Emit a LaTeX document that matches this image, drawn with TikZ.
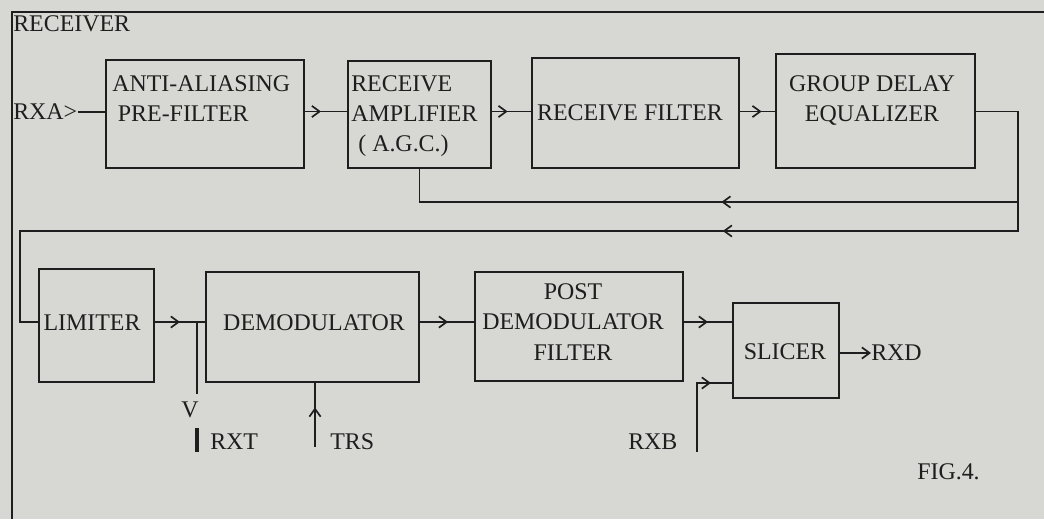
\documentclass[tikz,border=0pt]{standalone}
\usepackage{fontspec}
\setmainfont{Liberation Serif}
\usetikzlibrary{arrows.meta,decorations.markings}
\usepackage{xcolor}
\definecolor{paper}{HTML}{D7D7D4}
\definecolor{ink}{HTML}{1E1E1E}

\begin{document}
\begin{tikzpicture}[
  x=0.025cm, y=-0.025cm,
  blk/.style 2 args={draw=ink, line width=1.8pt, inner sep=0pt,
               minimum width=#1*0.025cm, minimum height=#2*0.025cm},
  txt/.style={font=\fontsize{17}{21.5}\selectfont, text=ink, inner sep=0pt},
  wire/.style={draw=ink, line width=1.4pt},
  flow/.style={postaction=decorate, decoration={markings,
               mark=at position #1 with {\arrow{Straight Barb[length=5.5pt,width=8pt,line width=1.2pt]}}}},
  flow/.default=0.5
]
  % Paper
  \useasboundingbox (0,0) rectangle (1044,519);
  \fill[paper] (0,0) rectangle (1044,519);

  % Frame
  \coordinate (frtop) at (1044,12);
  \coordinate (frcorner) at (12,12);
  \coordinate (frbot) at (12,519);
  \draw[wire] (frtop) -- (frcorner) -- (frbot);
  \node[txt, anchor=west] (title) at (13,23.5) {RECEIVER};

  % Top row
  \node[blk={198}{108}] (aaf) at (205,114) {};
  \node[txt, align=left, anchor=north west] (aaft) at (112,75) {ANTI-ALIASING\\\hspace*{4pt}PRE-FILTER};
  \node[blk={143}{107}] (amp) at (419.5,114.5) {};
  \node[txt, align=left, anchor=north west] (ampt) at (351,75) {RECEIVE\\AMPLIFIER\\\hspace*{5pt}( A.G.C.)};
  \node[blk={207}{110}] (rf) at (635.5,113) {};
  \node[txt] (rft) at (630,113) {RECEIVE FILTER};
  \node[blk={199}{114}] (gde) at (875.5,111) {};
  \node[txt, align=center, anchor=north] (gdet) at (872,75) {GROUP DELAY\\EQUALIZER};

  \node[txt, anchor=west] (rxa) at (13,112) {RXA>};
  \coordinate (row1) at (0,111.5);
  \draw[wire] (rxa.east) -- (rxa.east -| aaf.west);
  \draw[wire, flow=0.38] (aaf.east |- row1) -- (amp.west |- row1);
  \draw[wire, flow=0.4] (amp.east |- row1) -- (rf.west |- row1);
  \draw[wire, flow=0.62] (rf.east |- row1) -- (gde.west |- row1);

  % Bottom row
  \node[blk={115}{113}] (lim) at (96.5,325.5) {};
  \node[txt] (limt) at (92,323) {LIMITER};
  \node[blk={213}{110}] (dem) at (312.5,327) {};
  \node[txt] (demt) at (314,323) {DEMODULATOR};
  \node[blk={208}{109}] (pdf) at (579,326.5) {};
  \node[txt, align=center] (pdft) at (573,322) {POST\\DEMODULATOR\\FILTER};
  \node[blk={106}{95}] (sli) at (786,350.5) {};
  \node[txt] (slit) at (785,352) {SLICER};

  % Feedback lines
  \coordinate (turn) at (1018,111.5);
  \coordinate (fbagc) at (1018,202);
  \coordinate (fblim) at (1018,231);
  \coordinate (fbleft) at (20,231);
  \coordinate (row2) at (0,322);
  \draw[wire, flow=0.36] (gde.east |- row1) -- (turn) -- (fblim) -- (fbleft) |- (lim.west |- row2);
  \draw[wire, flow=0.47] (fbagc) -- (amp.south |- fbagc) -- (amp.south);

  % Signal path
  \draw[wire, flow=0.5] (lim.east |- row2) -- (dem.west |- row2);
  \draw[wire, flow=0.52] (dem.east |- row2) -- (pdf.west |- row2);
  \draw[wire, flow=0.5] (pdf.east |- row2) -- (sli.west |- row2);
  \node[txt, anchor=west] (rxd) at (871,353) {RXD};
  \draw[wire, -{Straight Barb[length=5.5pt,width=8pt,line width=1.2pt]}] (sli.east |- rxd) -- (rxd.west);

  % RXT
  \coordinate (rxtj) at (197,322);
  \coordinate (rxtend) at (197,394);
  \draw[wire, line width=1.7pt] (rxtj) -- (rxtend);
  \node[txt] (vmark) at (190,410) {V};
  \coordinate (rxtbar1) at (197,428);
  \coordinate (rxtbar2) at (197,452);
  \draw[wire, line width=2.2pt] (rxtbar1) -- (rxtbar2);
  \node[txt, anchor=west] (rxt) at (210,442) {RXT};

  % TRS
  \coordinate (trsin) at (315,447);
  \draw[wire, flow=0.62] (trsin) -- (trsin |- dem.south);
  \node[txt, anchor=west] (trs) at (330,442) {TRS};

  % RXB
  \coordinate (rxbin) at (697,452);
  \coordinate (rxbrow) at (0,383);
  \draw[wire, line width=1.7pt, flow=0.8] (rxbin) |- (sli.west |- rxbrow);
  \node[txt, anchor=west] (rxb) at (628,442) {RXB};

  \node[txt, anchor=west] (fig) at (917,472) {FIG.4.};
\end{tikzpicture}
\end{document}
